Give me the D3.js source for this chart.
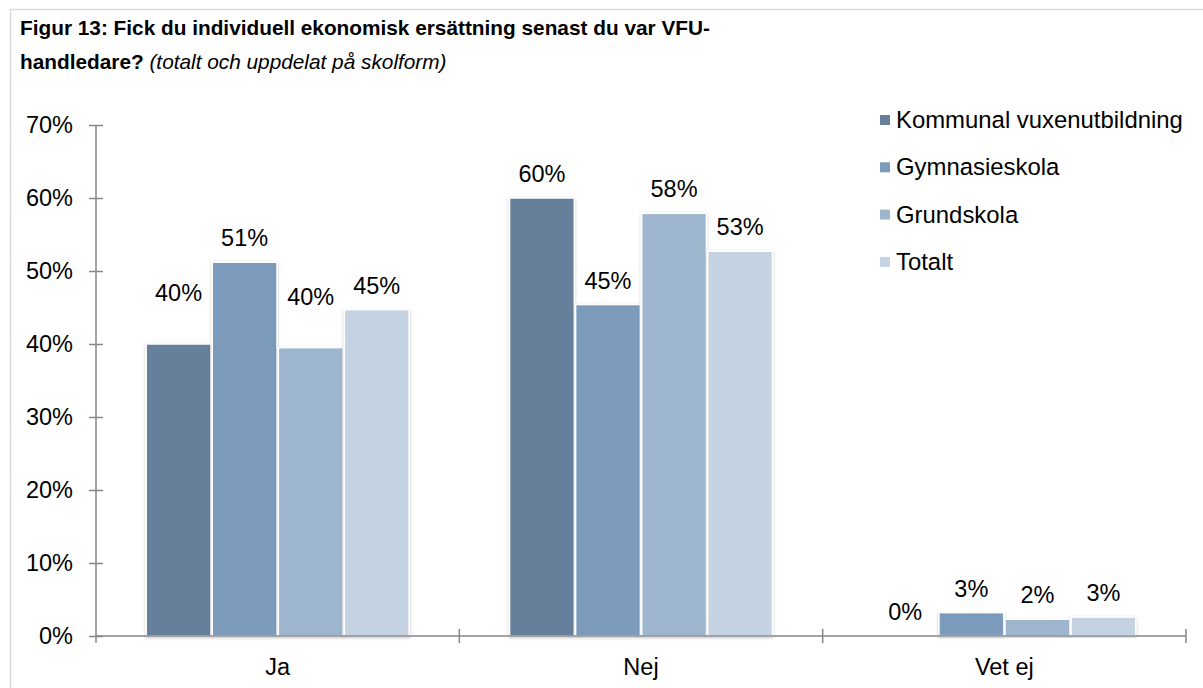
<!DOCTYPE html>
<html lang="sv">
<head>
<meta charset="UTF-8">
<title>Figur 13</title>
<script src="https://d3js.org/d3.v7.min.js"></script>
<style>
  body { margin: 0; background: #fff; }
  text { font-family: "Liberation Sans", Arial, sans-serif; fill: #000; }
</style>
</head>
<body>
<div id="chart"></div>
<script>
// data
var categories = ["Ja", "Nej", "Vet ej"];
var seriesNames = ["Kommunal vuxenutbildning", "Gymnasieskola", "Grundskola", "Totalt"];
var kommunal = [40, 60, 0];
var gymnasie = [51.2, 45.4, 3.2];
var grund = [39.5, 57.9, 2.3];
var totalt = [44.7, 52.7, 2.6];
var yTicks = [0, 10, 20, 30, 40, 50, 60, 70];

var colors = ["#667f9a", "#7b9bbb", "#9eb5ce", "#c5d2e2"];
var series = [kommunal, gymnasie, grund, totalt];

var W = 1203, H = 688;
var svg = d3.select("#chart").append("svg")
    .attr("width", W)
    .attr("height", H);

// outer frame (top and left only, as in the picture)
svg.append("line").attr("x1", 10).attr("x2", W).attr("y1", 9.5).attr("y2", 9.5)
    .attr("stroke", "#d9d9d9").attr("stroke-width", 1.5);
svg.append("line").attr("x1", 10.5).attr("x2", 10.5).attr("y1", 9).attr("y2", H)
    .attr("stroke", "#d9d9d9").attr("stroke-width", 1.5);

// title
svg.append("text").attr("x", 20).attr("y", 35)
    .style("font-size", "20.8px").style("font-weight", "bold")
    .text("Figur 13: Fick du individuell ekonomisk ersättning senast du var VFU-");
var t2 = svg.append("text").attr("x", 20).attr("y", 69).style("font-size", "20.8px");
t2.append("tspan").style("font-weight", "bold").text("handledare? ");
t2.append("tspan").style("font-style", "italic").text("(totalt och uppdelat på skolform)");

var plotL = 96, plotR = 1186, plotT = 125, plotB = 636;
var fs = "23.5px";

var x = d3.scaleBand().domain(categories).range([plotL, plotR]);
var xs = d3.scaleBand().domain(d3.range(seriesNames.length))
    .range([0, x.bandwidth()]).paddingOuter(0.76).paddingInner(0.02);
var y = d3.scaleLinear().domain([0, 70]).range([plotB, plotT]);

var defs = svg.append("defs");
var f = defs.append("filter").attr("id", "shadow")
    .attr("x", "-10%").attr("y", "-10%").attr("width", "120%").attr("height", "120%");
f.append("feDropShadow").attr("dx", 0).attr("dy", 1).attr("stdDeviation", 1.5)
    .attr("flood-color", "#000").attr("flood-opacity", 0.25);

// bars and value labels
var labelNudge = { "0-0": 27, "2-0": 27 };
categories.forEach(function(cat, ci) {
  series.forEach(function(vals, si) {
    var v = vals[ci];
    var bx = x(cat) + xs(si);
    if (v > 0) {
      svg.append("rect")
        .attr("x", bx)
        .attr("y", y(v))
        .attr("width", xs.bandwidth())
        .attr("height", y(0) - y(v))
        .attr("fill", colors[si])
        .attr("stroke", "#fff")
        .attr("stroke-width", 1.5)
        .attr("filter", "url(#shadow)");
    }
    var nudge = labelNudge[si + "-" + ci] || 0;
    svg.append("text")
      .attr("x", bx + xs.bandwidth() / 2)
      .attr("y", y(v) - 16 - nudge)
      .attr("text-anchor", "middle")
      .style("font-size", fs)
      .text(Math.round(v) + "%");
  });
});

// y axis
var axisColor = "#868686";
var yAxis = svg.append("g").attr("transform", "translate(" + plotL + ",0)")
  .call(d3.axisLeft(y).tickValues(yTicks).tickFormat(function(d) { return d + "%"; })
    .tickSizeInner(7).tickSizeOuter(0).tickPadding(16));
yAxis.select(".domain").attr("stroke", axisColor).attr("stroke-width", 1.5)
  .attr("d", "M0," + plotT + "V" + (plotB + 7));
yAxis.selectAll(".tick line").attr("stroke", axisColor).attr("stroke-width", 1.5)
  .attr("x1", 7).attr("x2", -7);
yAxis.selectAll(".tick text").style("font-size", fs)
  .style("font-family", "'Liberation Sans', Arial, sans-serif").attr("fill", "#000");

// x axis
var xAxis = svg.append("g").attr("transform", "translate(0," + plotB + ")");
xAxis.append("line").attr("x1", plotL).attr("x2", plotR).attr("y1", 0).attr("y2", 0)
  .attr("stroke", axisColor).attr("stroke-width", 1.5);
var bounds = categories.map(function(c) { return x(c); }).concat([plotR]);
xAxis.selectAll("line.tk").data(bounds.slice(1)).enter().append("line")
  .attr("class", "tk")
  .attr("x1", function(d) { return d; }).attr("x2", function(d) { return d; })
  .attr("y1", -7).attr("y2", 7)
  .attr("stroke", axisColor).attr("stroke-width", 1.5);
xAxis.selectAll("text").data(categories).enter().append("text")
  .attr("x", function(d) { return x(d) + x.bandwidth() / 2; })
  .attr("y", 39)
  .attr("text-anchor", "middle")
  .style("font-size", fs)
  .text(function(d) { return d; });

// legend
var legend = svg.append("g").attr("transform", "translate(880,120)");
seriesNames.forEach(function(name, i) {
  legend.append("rect").attr("x", 0).attr("y", i * 47.3 - 5).attr("width", 10).attr("height", 10)
    .attr("fill", colors[i]);
  legend.append("text").attr("x", 16).attr("y", i * 47.3 + 8)
    .style("font-size", "23.9px").text(name);
});
</script>
</body>
</html>
